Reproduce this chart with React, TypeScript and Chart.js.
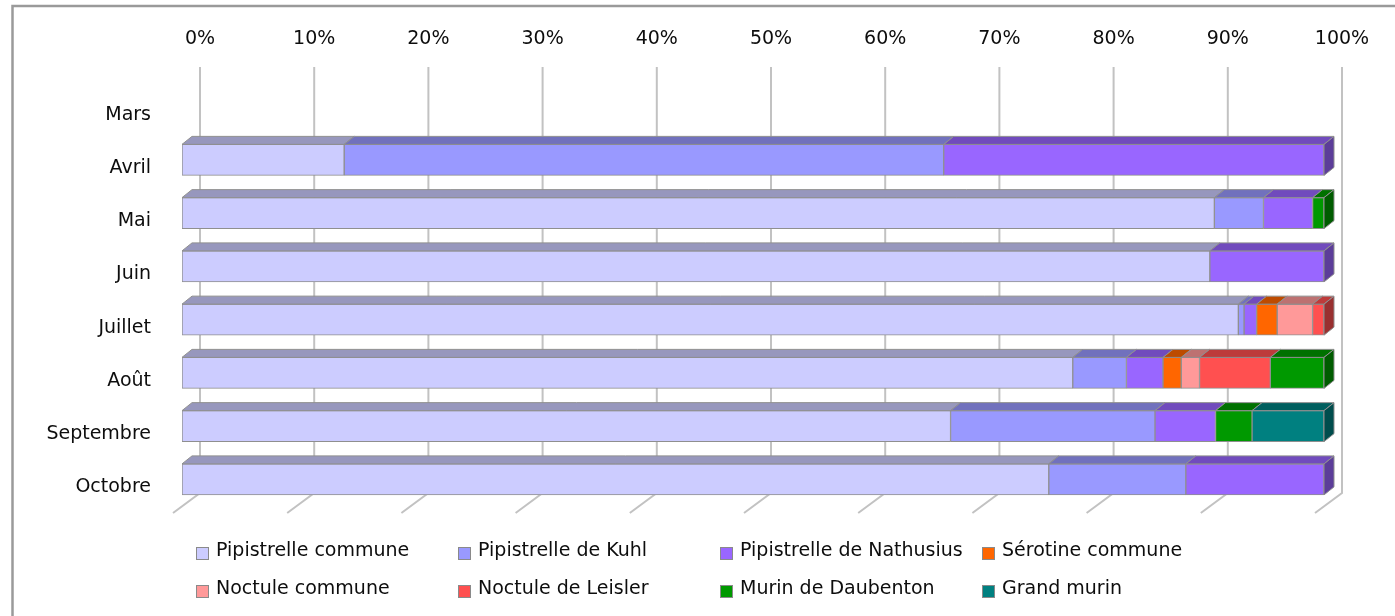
import React, { useEffect, useRef } from 'react';
import { Chart, registerables } from 'chart.js';

Chart.register(...registerables);

// ---- data ----
const months = ['Mars', 'Avril', 'Mai', 'Juin', 'Juillet', 'Août', 'Septembre', 'Octobre'];
const percentTicks = [0, 10, 20, 30, 40, 50, 60, 70, 80, 90, 100];

const pipistrelleCommune = [null, 14.2, 90.4, 90.0, 92.5, 78.0, 67.3, 75.9];
const pipistrelleKuhl = [null, 52.5, 4.3, null, 0.5, 4.7, 17.9, 12.0];
const pipistrelleNathusius = [null, 33.3, 4.3, 10.0, 1.1, 3.2, 5.3, 12.1];
const serotineCommune = [null, null, null, null, 1.8, 1.6, null, null];
const noctuleCommune = [null, null, null, null, 3.1, 1.6, null, null];
const noctuleLeisler = [null, null, null, null, 1.0, 6.2, null, null];
const murinDaubenton = [null, null, 1.0, null, null, 4.7, 3.2, null];
const grandMurin = [null, null, null, null, null, null, 6.3, null];

const seriesLabels = [
  'Pipistrelle commune',
  'Pipistrelle de Kuhl',
  'Pipistrelle de Nathusius',
  'Sérotine commune',
  'Noctule commune',
  'Noctule de Leisler',
  'Murin de Daubenton',
  'Grand murin',
];
const seriesValues = [
  pipistrelleCommune,
  pipistrelleKuhl,
  pipistrelleNathusius,
  serotineCommune,
  noctuleCommune,
  noctuleLeisler,
  murinDaubenton,
  grandMurin,
];
const seriesColors = ['#CCCCFF', '#9999FF', '#9966FF', '#FF6600', '#FF9999', '#FF5050', '#009900', '#008080'];

// ---- styling ----
const FONT = 'DejaVu Sans';
const FONT_SIZE = 19;
const TEXT_COLOR = '#0d0d0d';
const EDGE = '#8f8f8f';
const DEPTH_X = 10;
const DEPTH_Y = 8;
const BACK_X = 18;

function shade(hex: string, f: number) {
  const n = parseInt(hex.slice(1), 16);
  const r = Math.round(((n >> 16) & 255) * f);
  const g = Math.round(((n >> 8) & 255) * f);
  const b = Math.round((n & 255) * f);
  return `rgb(${r},${g},${b})`;
}

const framePlugin = {
  id: 'frame',
  beforeDraw(chart: any) {
    const ctx = chart.ctx;
    ctx.save();
    ctx.fillStyle = '#ffffff';
    ctx.fillRect(0, 0, chart.width, chart.height);
    ctx.strokeStyle = '#9a9a9a';
    ctx.lineWidth = 2.5;
    ctx.beginPath();
    ctx.moveTo(12.5, chart.height + 10);
    ctx.lineTo(12.5, 6);
    ctx.lineTo(chart.width + 10, 6);
    ctx.stroke();
    ctx.restore();
  },
};

const gridPlugin = {
  id: 'grid3d',
  beforeDatasetsDraw(chart: any) {
    const ctx = chart.ctx;
    const xs = chart.scales.x;
    const area = chart.chartArea;
    const top = area.top - 13;
    const bottom = area.bottom - 13;
    ctx.save();
    ctx.strokeStyle = '#c2c2c2';
    ctx.lineWidth = 2;
    percentTicks.forEach((v) => {
      const px = xs.getPixelForValue(v) + BACK_X;
      ctx.beginPath();
      ctx.moveTo(px, top);
      ctx.lineTo(px, bottom);
      ctx.lineTo(px - 27, bottom + 20);
      ctx.stroke();
    });
    ctx.restore();
  },
};

const bar3dPlugin = {
  id: 'bar3d',
  afterDatasetsDraw(chart: any) {
    const ctx = chart.ctx;
    const n = chart.data.labels.length;
    ctx.save();
    ctx.lineWidth = 1;
    ctx.strokeStyle = EDGE;
    ctx.lineJoin = 'round';
    for (let i = 0; i < n; i++) {
      let last: any = null;
      chart.data.datasets.forEach((ds: any, d: number) => {
        const v = ds.data[i];
        if (v == null || v === 0) return;
        const el = chart.getDatasetMeta(d).data[i];
        if (!el) return;
        const { x, y, base, height } = el.getProps(['x', 'y', 'base', 'height'], true);
        const t = y - height / 2;
        ctx.beginPath();
        ctx.moveTo(base, t);
        ctx.lineTo(x, t);
        ctx.lineTo(x + DEPTH_X, t - DEPTH_Y);
        ctx.lineTo(base + DEPTH_X, t - DEPTH_Y);
        ctx.closePath();
        ctx.fillStyle = shade(ds.backgroundColor, 0.74);
        ctx.fill();
        ctx.stroke();
        last = { x, t, b: y + height / 2, color: ds.backgroundColor };
      });
      if (last) {
        ctx.beginPath();
        ctx.moveTo(last.x, last.t);
        ctx.lineTo(last.x + DEPTH_X, last.t - DEPTH_Y);
        ctx.lineTo(last.x + DEPTH_X, last.b - DEPTH_Y);
        ctx.lineTo(last.x, last.b);
        ctx.closePath();
        ctx.fillStyle = shade(last.color, 0.6);
        ctx.fill();
        ctx.stroke();
      }
    }
    ctx.restore();
  },
};

const legendCols = [196, 458, 720, 982];
const legendRows = [551, 589];

const legendPlugin = {
  id: 'gridLegend',
  afterDraw(chart: any) {
    const ctx = chart.ctx;
    ctx.save();
    ctx.font = `${FONT_SIZE}px "${FONT}"`;
    ctx.textBaseline = 'middle';
    ctx.textAlign = 'left';
    chart.data.datasets.forEach((ds: any, d: number) => {
      const cx = legendCols[d % 4];
      const cy = legendRows[Math.floor(d / 4)];
      ctx.fillStyle = ds.backgroundColor;
      ctx.fillRect(cx, cy - 4, 13, 13);
      ctx.strokeStyle = '#8a8a8a';
      ctx.lineWidth = 1;
      ctx.strokeRect(cx + 0.5, cy - 3.5, 12, 12);
      ctx.fillStyle = TEXT_COLOR;
      ctx.fillText(ds.label, cx + 20, cy);
    });
    ctx.restore();
  },
};

export default function App() {
  const canvasRef = useRef<HTMLCanvasElement>(null);

  useEffect(() => {
    if (!canvasRef.current) return;
    const chart = new Chart(canvasRef.current, {
      type: 'bar',
      data: {
        labels: months,
        datasets: seriesLabels.map((label, i) => ({
          label,
          data: seriesValues[i],
          backgroundColor: seriesColors[i],
          borderColor: EDGE,
          borderWidth: 1,
          borderSkipped: false,
          barThickness: 31,
        })),
      },
      options: {
        indexAxis: 'y',
        responsive: false,
        animation: false,
        layout: { padding: { left: 0, right: 71, top: 0, bottom: 110 } },
        plugins: {
          legend: { display: false },
          tooltip: { enabled: false },
        },
        scales: {
          x: {
            position: 'top',
            stacked: true,
            min: 0,
            max: 100,
            afterBuildTicks: (scale: any) => {
              scale.ticks = percentTicks.map((v) => ({ value: v }));
            },
            afterFit: (scale: any) => {
              scale.height = 80;
            },
            grid: { display: false, drawTicks: false },
            border: { display: false },
            ticks: {
              padding: 30,
              labelOffset: BACK_X,
              color: TEXT_COLOR,
              font: { family: FONT, size: FONT_SIZE },
              callback: (v: any) => `${v}%`,
            },
          },
          y: {
            stacked: true,
            afterFit: (scale: any) => {
              scale.width = 182;
            },
            grid: { display: false, drawTicks: false },
            border: { display: false },
            ticks: {
              padding: 31,
              labelOffset: 8,
              color: TEXT_COLOR,
              font: { family: FONT, size: FONT_SIZE },
            },
          },
        },
      },
      plugins: [framePlugin, gridPlugin, bar3dPlugin, legendPlugin],
    } as any);
    return () => chart.destroy();
  }, []);

  return (
    <div style={{ position: 'absolute', left: 0, top: 0, width: 1395, height: 616 }}>
      <canvas ref={canvasRef} width={1395} height={616} style={{ display: 'block' }} />
    </div>
  );
}
